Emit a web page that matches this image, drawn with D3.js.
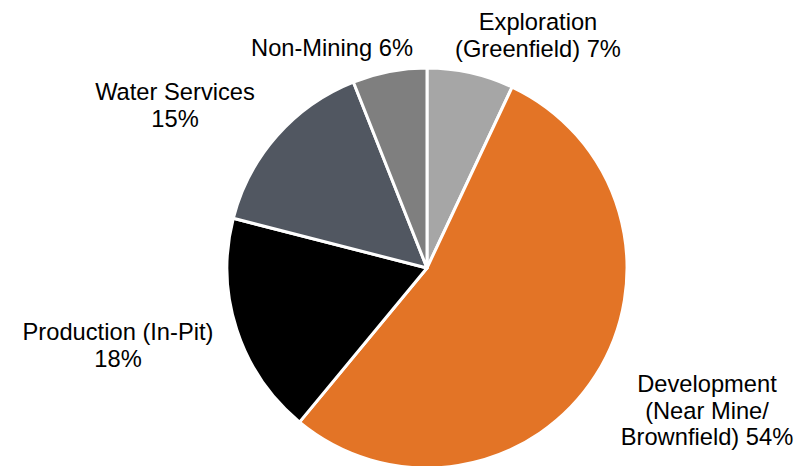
<!DOCTYPE html>
<html>
<head>
<meta charset="utf-8">
<script src="https://cdn.jsdelivr.net/npm/d3@7"></script>
<style>
  body { margin: 0; background: #fff; }
  svg { display: block; }
  text { font-family: "Liberation Sans", Arial, sans-serif; font-size: 23.7px; fill: #000; }
</style>
</head>
<body>
<svg id="drawing_region"></svg>
<script>
// data, clockwise from 12 o'clock
var categories = ['Exploration', 'Development', 'Production', 'Water Services', 'Non-Mining'];
var values = [7, 54, 18, 15, 6];
var labelLines = [
    ['Exploration', '(Greenfield) 7%'],
    ['Development', '(Near Mine/', 'Brownfield) 54%'],
    ['Production (In-Pit)', '18%'],
    ['Water Services', '15%'],
    ['Non-Mining 6%']
];
var colors = ['#a6a6a6', '#e37426', '#000000', '#515761', '#7f7f7f'];

// label placement relative to pie centre (x of text centre, y of first baseline)
var labelPos = [[111, -238], [280, 124], [-309, 72], [-252, -168], [-95, -212]];

var width = 809, height = 466;
var cx = 427, cy = 268, radius = 200;
var lineHeight = 26.5;

var svg = d3.select('#drawing_region')
    .attr('width', width)
    .attr('height', height);

var g = svg.append('g')
    .attr('transform', 'translate(' + cx + ',' + cy + ')');

var data = categories.map(function(c, i) {
    return { name: c, value: values[i], lines: labelLines[i], i: i };
});

var pie = d3.pie()
    .value(d => d.value)
    .sort(null);

var arc = d3.arc()
    .innerRadius(0)
    .outerRadius(radius);

var color = d3.scaleOrdinal()
    .domain(categories)
    .range(colors);

g.selectAll('path')
    .data(pie(data))
    .enter()
    .append('path')
    .attr('d', arc)
    .attr('fill', d => color(d.data.name))
    .attr('stroke', '#fff')
    .attr('stroke-width', 3)
    .attr('stroke-linejoin', 'round');

var labels = g.selectAll('text.label')
    .data(data)
    .enter()
    .append('text')
    .attr('class', 'label')
    .attr('text-anchor', 'middle')
    .attr('x', d => labelPos[d.i][0])
    .attr('y', d => labelPos[d.i][1]);

labels.selectAll('tspan')
    .data(d => d.lines.map(l => ({ t: l, x: labelPos[d.i][0] })))
    .enter()
    .append('tspan')
    .attr('x', d => d.x)
    .attr('dy', (d, j) => j === 0 ? 0 : lineHeight)
    .text(d => d.t);
</script>
</body>
</html>
